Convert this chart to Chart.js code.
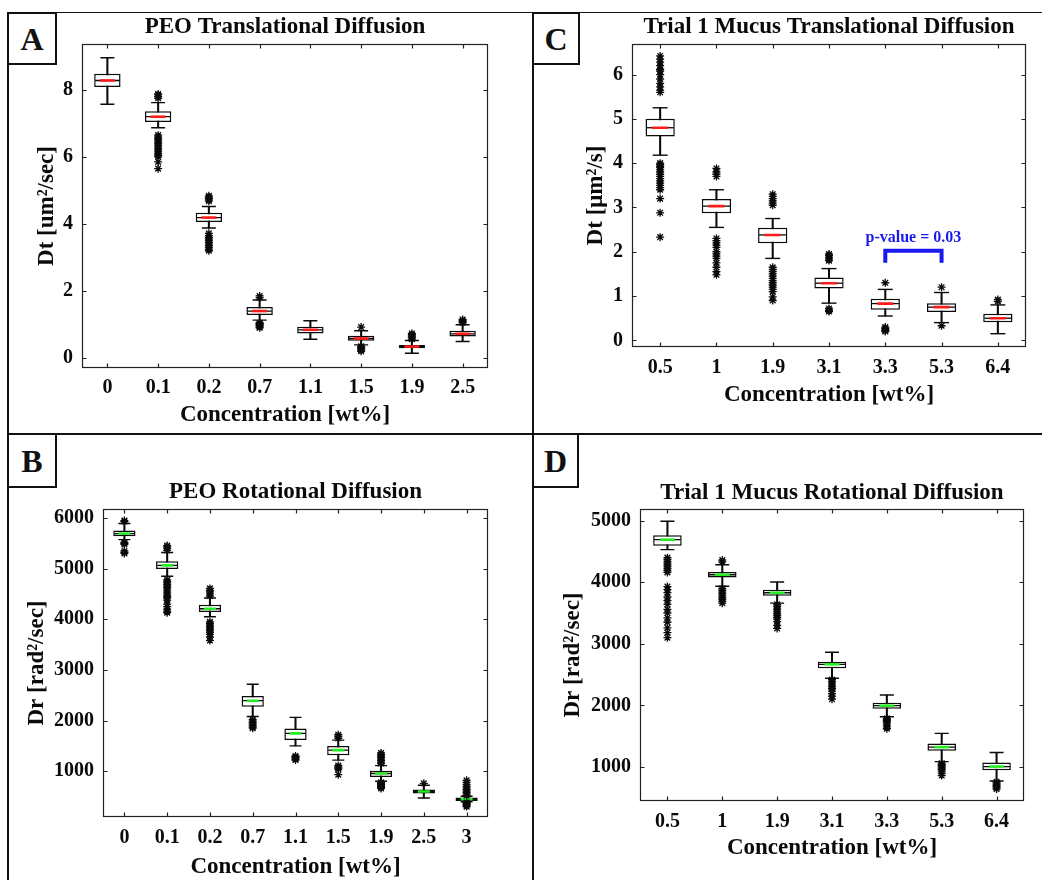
<!DOCTYPE html>
<html><head><meta charset="utf-8">
<script src="https://cdn.jsdelivr.net/npm/chart.js@4.4.1/dist/chart.umd.min.js"></script>
<style>
html,body{margin:0;padding:0;background:#fff;}
#fig{position:relative;width:1042px;height:880px;overflow:hidden;background:#fff;font-family:"Liberation Serif","Times New Roman",serif;}
.ln{position:absolute;background:#111;}
.lab{position:absolute;box-sizing:border-box;border:2px solid #111;background:#fff;font-weight:bold;font-size:32px;display:flex;align-items:center;justify-content:center;color:#111;line-height:1;}
canvas{position:absolute;}
</style></head><body>
<div id="fig">
  <canvas id="cA" width="522" height="419" style="left:10px;top:14px"></canvas>
  <canvas id="cB" width="522" height="444" style="left:10px;top:436px"></canvas>
  <canvas id="cC" width="507" height="419" style="left:535px;top:14px"></canvas>
  <canvas id="cD" width="507" height="444" style="left:535px;top:436px"></canvas>
  <div class="ln" style="left:8px;top:12px;width:1034px;height:1px"></div>
  <div class="ln" style="left:7px;top:12px;width:2px;height:868px"></div>
  <div class="ln" style="left:532px;top:12px;width:2px;height:868px"></div>
  <div class="ln" style="left:8px;top:433px;width:1034px;height:2px"></div>
  <div class="lab" style="left:7px;top:12px;width:50px;height:53px">A</div>
  <div class="lab" style="left:532px;top:12px;width:48px;height:53px">C</div>
  <div class="lab" style="left:7px;top:433px;width:50px;height:55px">B</div>
  <div class="lab" style="left:532px;top:433px;width:47px;height:55px">D</div>
</div>
<script>
// ---------- Panel A: PEO Translational Diffusion ----------
const catsA  = ['0','0.1','0.2','0.7','1.1','1.5','1.9','2.5'];
const q1A    = [8.09, 7.04, 4.06, 1.28, 0.73, 0.51, 0.29, 0.64];
const medA   = [8.28, 7.20, 4.19, 1.40, 0.84, 0.58, 0.34, 0.72];
const q3A    = [8.48, 7.36, 4.33, 1.52, 0.93, 0.66, 0.39, 0.81];
const whLoA  = [7.57, 6.87, 3.88, 1.13, 0.56, 0.39, 0.14, 0.49];
const whHiA  = [8.96, 7.62, 4.52, 1.73, 1.11, 0.81, 0.52, 0.99];
const outA   = [
  [],
  [7.75,7.8,7.85,7.88, 6.65,6.6,6.55,6.5,6.45,6.4,6.35,6.3,6.25,6.2,6.15,6.1,6.05,6.0,5.85,5.65],
  [4.68,4.72,4.76,4.8,4.84, 3.72,3.65,3.6,3.55,3.5,3.45,3.4,3.35,3.3,3.25,3.2],
  [1.8,1.85, 1.05,1.02,1.0,0.97,0.95,0.92,0.9],
  [],
  [0.92, 0.35,0.32,0.3,0.27,0.24,0.2],
  [0.56,0.6,0.63,0.66,0.7,0.73],
  [1.05,1.08,1.12,1.15]
];
const yTicksA = [0,2,4,6,8];

// ---------- Panel B: PEO Rotational Diffusion ----------
const catsB  = ['0','0.1','0.2','0.7','1.1','1.5','1.9','2.5','3'];
const q1B    = [5640, 4994, 4142, 2273, 1614, 1317, 887, 558, 412];
const medB   = [5693, 5065, 4208, 2392, 1746, 1416, 954, 598, 446];
const q3B    = [5752, 5145, 4287, 2485, 1845, 1495, 1006, 637, 479];
const whLoB  = [5574, 4850, 4050, 2080, 1500, 1218, 800, 471, 395];
const whHiB  = [5891, 5320, 4420, 2717, 2063, 1614, 1110, 723, 505];
const outB   = [
  [5930,5950, 5520,5500,5480,5350,5320,5300],
  [5360,5400,5430,5455, 4780,4750,4720,4690,4660,4630,4600,4560,4520,4480,4450,4420,4380,4300,4250,4200,4160,4130],
  [4460,4500,4540,4570,4610, 3950,3920,3890,3860,3830,3800,3770,3740,3700,3650,3580],
  [2020,1990,1960,1930,1900,1870,1850],
  [1300,1280,1260,1240,1220],
  [1650,1690,1720, 1110,1080,1060,1040,930],
  [1150,1180,1210,1240,1270,1300,1330,1360, 780,760,740,720,700,680,660],
  [760],
  [520,550,580,610,640,670,700,740,780,820, 380,360,340,320,300]
];
const yTicksB = [1000,2000,3000,4000,5000,6000];

// ---------- Panel C: Trial 1 Mucus Translational Diffusion ----------
const catsC  = ['0.5','1','1.9','3.1','3.3','5.3','6.4'];
const q1C    = [4.60, 2.87, 2.19, 1.17, 0.69, 0.64, 0.41];
const medC   = [4.80, 3.03, 2.38, 1.29, 0.83, 0.75, 0.50];
const q3C    = [5.00, 3.19, 2.54, 1.42, 0.94, 0.84, 0.60];
const whLoC  = [4.18, 2.55, 1.85, 0.84, 0.55, 0.40, 0.15];
const whHiC  = [5.25, 3.40, 2.75, 1.62, 1.15, 1.08, 0.80];
const outC   = [
  [5.6,5.65,5.72,5.8,5.9,6.0,6.08,6.12,6.2,6.28,6.35,6.42, 4.0,3.97,3.93,3.9,3.85,3.8,3.75,3.7,3.65,3.6,3.55,3.5,3.45,3.4,3.2,2.88,2.33],
  [3.7,3.75,3.8,3.88, 2.3,2.25,2.2,2.15,2.1,2.0,1.95,1.9,1.85,1.75,1.65,1.55,1.48],
  [3.05,3.1,3.15,3.2,3.25,3.3, 1.65,1.6,1.55,1.5,1.45,1.4,1.35,1.3,1.25,1.2,1.15,1.1,0.98,0.9],
  [1.8,1.84,1.88,1.92,1.95, 0.72,0.68,0.65],
  [1.3, 0.3,0.27,0.25,0.22,0.2],
  [1.2, 0.33],
  [0.88,0.92]
];
const yTicksC = [0,1,2,3,4,5,6];
const pBracketCats = ['3.3','5.3'];
const pBracketY = [1.75, 2.02];
const pLabel = 'p-value = 0.03';
const pLabelY = 2.31;

// ---------- Panel D: Trial 1 Mucus Rotational Diffusion ----------
const catsD  = ['0.5','1','1.9','3.1','3.3','5.3','6.4'];
const q1D    = [4594, 4078, 3780, 2603, 1945, 1261, 946];
const medD   = [4692, 4122, 3829, 2667, 1994, 1321, 1006];
const q3D    = [4762, 4166, 3878, 2710, 2042, 1381, 1072];
const whLoD  = [4530, 3935, 3660, 2440, 1814, 1085, 772];
const whHiD  = [4990, 4285, 4003, 2863, 2168, 1544, 1234];
const outD   = [
  [4400,4370,4340,4310,4280,4250,4220,4190,4160, 3930,3880,3830,3760,3700,3640,3560,3500,3420,3350,3260,3180,3100],
  [4330,4360, 3900,3870,3840,3810,3780,3750,3720,3690,3660],
  [3640,3610,3580,3550,3520,3490,3460,3430,3400,3360,3300,3250],
  [2420,2390,2360,2330,2300,2270,2230,2190,2150,2100],
  [1790,1770,1750,1730,1710,1680,1650,1620],
  [1060,1040,1020,1000,980,960,930,900,860],
  [760,740,720,700,680,660,640]
];
const yTicksD = [1000,2000,3000,4000,5000];

const xTitle = 'Concentration [wt%]';
const FONT = '"Liberation Serif", "Times New Roman", serif';
const INK = '#0a0a0a';

const framePlugin = {
  id: 'frame',
  afterDatasetsDraw(chart, args, opts) {
    const {ctx, chartArea: ca, scales: {x, y}} = chart;
    ctx.save();
    ctx.strokeStyle = '#222';
    ctx.lineWidth = 1.2;
    const L = Math.round(ca.left) + 0.5, R = Math.round(ca.right) - 0.5;
    const T = Math.round(ca.top) + 0.5, B = Math.round(ca.bottom) - 0.5;
    ctx.strokeRect(L, T, R - L, B - T);
    ctx.beginPath();
    y.ticks.forEach(t => {
      const py = Math.round(y.getPixelForValue(t.value)) + 0.5;
      ctx.moveTo(L, py); ctx.lineTo(L + 4, py);
      ctx.moveTo(R, py); ctx.lineTo(R - 4, py);
    });
    x.ticks.forEach((t, i) => {
      const px = Math.round(x.getPixelForTick(i)) + 0.5;
      ctx.moveTo(px, B); ctx.lineTo(px, B - 4);
      ctx.moveTo(px, T); ctx.lineTo(px, T + 4);
    });
    ctx.stroke();
    if (opts && opts.note) {
      const n = opts.note;
      const labels = chart.data.labels;
      const x1 = x.getPixelForValue(labels.indexOf(n.cats[0]));
      const x2 = x.getPixelForValue(labels.indexOf(n.cats[1]));
      ctx.fillStyle = n.color;
      ctx.font = 'bold 16px ' + FONT;
      ctx.textAlign = 'center';
      ctx.textBaseline = 'middle';
      ctx.fillText(n.text, (x1 + x2) / 2, y.getPixelForValue(n.y));
    }
    ctx.restore();
  }
};

function buildPanel(id, d, s) {
  const cats = d.cats;
  const boxData = d.q1.map((v, i) => [v, d.q3[i]]);
  const whiskData = d.wlo.map((v, i) => [v, d.whi[i]]);
  const capPts = [];
  cats.forEach((c, i) => { capPts.push({x: c, y: d.wlo[i]}); capPts.push({x: c, y: d.whi[i]}); });
  const medPts = cats.map((c, i) => ({x: c, y: d.med[i]}));
  const outPts = [];
  cats.forEach((c, i) => d.out[i].forEach(v => outPts.push({x: c, y: v})));
  const datasets = [
    {type: 'bar', data: whiskData, backgroundColor: INK, borderWidth: 0, barThickness: 1.4, grouped: false, order: 6},
    {type: 'bar', data: boxData, backgroundColor: '#fff', borderColor: INK, borderWidth: 1.5, borderSkipped: false,
     grouped: false, barPercentage: 0.52, categoryPercentage: 1, order: 5},
    {type: 'line', data: medPts, showLine: false, pointStyle: 'line', pointRadius: s.boxHalf - 1,
     pointBorderColor: INK, pointBorderWidth: 1.3, order: 4},
    {type: 'line', data: medPts, showLine: false, pointStyle: 'line', pointRadius: s.medR,
     pointBorderColor: s.medColor, pointBorderWidth: 2.6, order: 3},
    {type: 'line', data: capPts, showLine: false, pointStyle: 'line', pointRadius: s.capR,
     pointBorderColor: INK, pointBorderWidth: 1.4, order: 2},
    {type: 'line', data: outPts, showLine: false, pointStyle: 'star', pointRadius: 4,
     pointBorderColor: INK, pointBorderWidth: 1.3, order: 1}
  ];
  if (d.bracket) {
    const b = d.bracket;
    datasets.push({type: 'line', data: [
      {x: b.cats[0], y: b.y[0]}, {x: b.cats[0], y: b.y[1]}, {x: b.cats[1], y: b.y[1]}, {x: b.cats[1], y: b.y[0]}
    ], borderColor: '#1a1aee', borderWidth: 4, pointRadius: 0, fill: false, tension: 0, order: 0, borderJoinStyle: 'miter'});
  }
  return new Chart(document.getElementById(id), {
    type: 'bar',
    data: {labels: cats, datasets},
    options: {
      responsive: false, animation: false, events: [],
      layout: {padding: {left: 0, top: 0, right: s.padR, bottom: 0}},
      plugins: {
        legend: {display: false}, tooltip: {enabled: false},
        title: {display: true, text: d.title, fullSize: false, color: INK,
                font: {family: FONT, size: 23, weight: 'bold', lineHeight: 1},
                padding: {top: s.tT, bottom: s.tB}},
        frame: {note: d.note || null}
      },
      scales: {
        x: {type: 'category', offset: true,
            grid: {display: false, drawTicks: false}, border: {display: false},
            ticks: {color: INK, font: {family: FONT, size: 20, weight: 'bold'}, padding: s.xTickPad, maxRotation: 0, autoSkip: false},
            title: {display: true, text: xTitle, color: INK,
                    font: {family: FONT, size: 23, weight: 'bold', lineHeight: 1},
                    padding: {top: 0, bottom: s.xTitlePad}},
            afterFit: sc => { sc.height = s.xH; }},
        y: {type: 'linear', min: s.yMin, max: s.yMax,
            grid: {display: false, drawTicks: false}, border: {display: false},
            ticks: {color: INK, font: {family: FONT, size: 20, weight: 'bold'}, padding: 9,
                    callback: v => String(v)},
            afterBuildTicks: sc => { sc.ticks = d.yTicks.map(v => ({value: v})); },
            title: {display: true, text: d.yTitle, color: INK,
                    font: {family: FONT, size: 23, weight: 'bold', lineHeight: 1},
                    padding: {top: s.yTitlePad, bottom: 0}},
            afterFit: sc => { sc.width = s.yW; }}
      }
    },
    plugins: [framePlugin]
  });
}

buildPanel('cA',
  {cats: catsA, q1: q1A, med: medA, q3: q3A, wlo: whLoA, whi: whHiA, out: outA, yTicks: yTicksA,
   title: 'PEO Translational Diffusion', yTitle: 'Dt [um\u00B2/sec]'},
  {padR: 44, yW: 72, xH: 65, tT: 1.5, tB: 5.5, xTickPad: 8, xTitlePad: 6.5, yTitlePad: 25.5,
   yMin: -0.3, yMax: 9.37, boxHalf: 13.2, medR: 7.5, capR: 7, medColor: '#ff1a1a'});

buildPanel('cB',
  {cats: catsB, q1: q1B, med: medB, q3: q3B, wlo: whLoB, whi: whHiB, out: outB, yTicks: yTicksB,
   title: 'PEO Rotational Diffusion', yTitle: 'Dr [rad\u00B2/sec]'},
  {padR: 44, yW: 93, xH: 63, tT: 44.5, tB: 5.5, xTickPad: 9, xTitlePad: 1.8, yTitlePad: 15.2,
   yMin: 95, yMax: 6178, boxHalf: 11.1, medR: 6, capR: 6, medColor: '#22ee22'});

buildPanel('cC',
  {cats: catsC, q1: q1C, med: medC, q3: q3C, wlo: whLoC, whi: whHiC, out: outC, yTicks: yTicksC,
   title: 'Trial 1 Mucus Translational Diffusion', yTitle: 'Dt [\u03BCm\u00B2/s]',
   bracket: {cats: pBracketCats, y: pBracketY},
   note: {cats: pBracketCats, y: pLabelY, text: pLabel, color: '#1a1aee'}},
  {padR: 16, yW: 97, xH: 86, tT: 1.5, tB: 5.5, xTickPad: 9, xTitlePad: 26.5, yTitlePad: 49.5,
   yMin: -0.15, yMax: 6.69, boxHalf: 14.6, medR: 8, capR: 7.5, medColor: '#ff1a1a'});

buildPanel('cD',
  {cats: catsD, q1: q1D, med: medD, q3: q3D, wlo: whLoD, whi: whHiD, out: outD, yTicks: yTicksD,
   title: 'Trial 1 Mucus Rotational Diffusion', yTitle: 'Dr [rad\u00B2/sec]'},
  {padR: 18, yW: 105, xH: 79, tT: 45.5, tB: 4.5, xTickPad: 9, xTitlePad: 20.5, yTitlePad: 26.5,
   yMin: 446, yMax: 5190, boxHalf: 14.3, medR: 7.5, capR: 7, medColor: '#22ee22'});
</script>
</body></html>
